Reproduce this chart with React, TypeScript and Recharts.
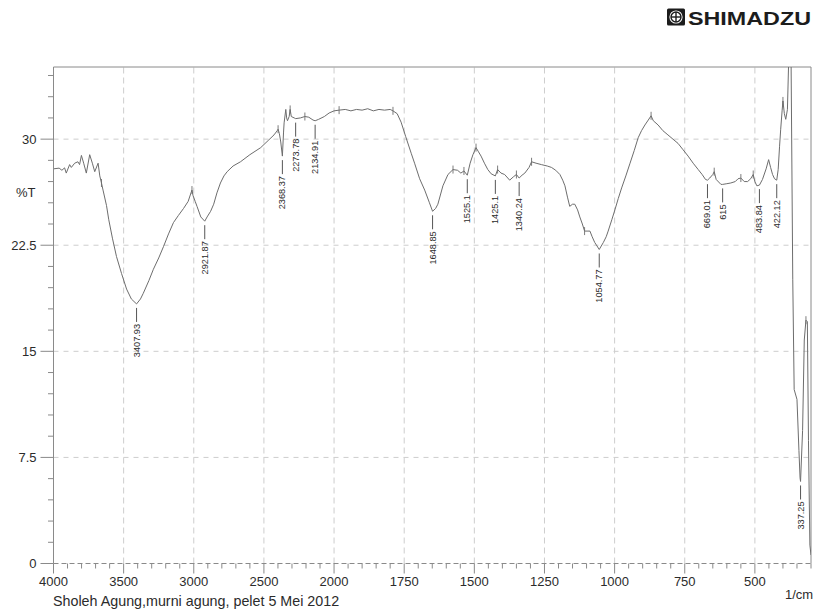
import { ComposedChart, Line, XAxis, YAxis, ReferenceLine } from "recharts";

// FTIR spectrum, wavenumber (1/cm) vs transmittance (%T)
const WAVENUMBER = [
  4000, 3960, 3940, 3921, 3909, 3885, 3873, 3849, 3826, 3814, 3801, 3785, 3766,
  3742, 3723, 3706, 3682, 3670, 3658, 3647, 3622, 3606, 3580, 3551, 3515, 3479,
  3445, 3407.93, 3380, 3360, 3320, 3288, 3250, 3216, 3180, 3145, 3110, 3073,
  3040, 3020, 3013, 3005, 2990, 2977, 2950, 2921.87, 2905, 2880, 2858, 2835,
  2810, 2785, 2762, 2720, 2667, 2600, 2523, 2470, 2428, 2405, 2399, 2390, 2380,
  2368.37, 2360, 2356, 2344, 2338, 2332, 2320, 2313, 2305, 2284, 2273.78, 2240,
  2208, 2180, 2150, 2134.91, 2110, 2069, 2035, 2000, 1982, 1960, 1940, 1920,
  1900, 1880, 1860, 1840, 1820, 1800, 1790, 1775, 1761, 1745, 1725, 1713, 1695,
  1677, 1660, 1648.85, 1638, 1630, 1612, 1594, 1576, 1560, 1548, 1537, 1525.1,
  1515, 1505, 1494, 1485, 1476, 1464, 1452, 1440, 1425.1, 1417, 1405, 1392,
  1374, 1360, 1350, 1340.24, 1330, 1320, 1305, 1296, 1280, 1261, 1240, 1225,
  1210, 1195, 1185, 1177, 1168, 1160, 1150, 1142, 1132, 1124, 1115, 1107, 1095,
  1088, 1080, 1071, 1054.77, 1040, 1030, 1023, 1010, 999, 987, 975, 960, 945,
  930, 916, 904, 892, 880, 870, 862, 845, 828, 810, 792, 774, 756, 738, 720,
  702, 688, 676, 669.01, 661, 650, 645, 638, 621, 615, 600, 586, 570, 560, 550,
  538, 526, 515, 506, 500, 493, 483.84, 473, 460, 451, 444, 437, 430, 422.12,
  417, 412, 408, 403, 400, 395, 390, 384, 379, 373, 371, 365, 360, 350, 343,
  339, 337.25, 330, 324, 318, 313, 309, 304, 300,
];

const TRANSMITTANCE = [
  27.9, 27.95, 27.8, 27.97, 27.6, 28.2, 28.0, 28.3, 28.4, 28.2, 28.85, 28.3,
  27.6, 28.9, 28.3, 27.7, 28.3, 27.4, 26.9, 26.4, 25.3, 24.3, 23.0, 21.7, 20.5,
  19.4, 18.7, 18.35, 18.7, 19.1, 20.0, 20.8, 21.6, 22.4, 23.3, 24.1, 24.6, 25.1,
  25.6, 26.2, 26.4, 26.0, 25.6, 25.25, 24.5, 24.2, 24.5, 24.9, 25.4, 26.2, 26.9,
  27.4, 27.7, 28.1, 28.4, 28.9, 29.4, 29.9, 30.3, 30.6, 30.7, 30.4, 29.8, 28.8,
  30.5, 31.15, 32.1, 31.5, 31.3, 31.6, 32.1, 31.6, 31.5, 31.45, 31.5, 31.6,
  31.55, 31.35, 31.3, 31.4, 31.6, 31.85, 32.0, 32.05, 32.1, 32.0, 32.1, 32.05,
  32.15, 32.0, 32.1, 32.05, 32.1, 32.0, 31.8, 31.2, 30.2, 29.0, 28.3, 27.2, 26.4,
  25.5, 24.9, 25.1, 25.4, 26.7, 27.5, 27.85, 27.8, 27.6, 27.75, 27.45, 28.3,
  28.9, 29.4, 29.1, 28.8, 28.3, 27.85, 27.55, 27.4, 27.85, 27.6, 27.5, 27.1,
  27.35, 27.5, 27.25, 27.45, 27.6, 28.0, 28.4, 28.3, 28.2, 28.1, 28.0, 27.8,
  27.5, 27.1, 26.7, 25.9, 25.25, 25.4, 25.4, 25.0, 24.5, 24.0, 23.5, 23.5, 23.5,
  23.1, 22.7, 22.2, 22.7, 23.1, 23.5, 24.3, 25.0, 25.8, 26.55, 27.4, 28.3, 29.2,
  30.1, 30.6, 31.0, 31.35, 31.65, 31.3, 31.0, 30.6, 30.3, 30.0, 29.7, 29.25,
  28.8, 28.3, 27.85, 27.5, 27.15, 27.1, 27.25, 27.5, 27.7, 27.15, 26.8, 26.8,
  26.85, 26.9, 27.0, 27.2, 27.25, 27.0, 27.0, 27.2, 27.5, 27.0, 26.7, 26.75,
  27.15, 27.9, 28.55, 28.0, 27.5, 27.2, 27.1, 27.85, 29.5, 30.7, 32.0, 32.7,
  31.8, 31.4, 32.1, 36.0, 36.0, 35.5, 20.1, 12.3, 11.6, 8.0, 6.05, 5.8, 9.4,
  15.8, 17.2, 17.1, 8.7, 1.3, 0.6,
];

// peaks annotated with their wavenumber
const PEAK_LABELS = [
  3407.93, 2921.87, 2368.37, 2273.78, 2134.91, 1648.85, 1525.1, 1425.1, 1340.24,
  1054.77, 669.01, 615, 483.84, 422.12, 337.25,
];

// small pick marks along the trace
const PICK_MARKS = [
  3658, 3013, 2399, 2313, 2208, 1982, 1790, 1576, 1537, 1494, 1417, 1350, 1296,
  1107, 870, 645, 550, 506, 400, 318,
];

const X_MAJOR = [4000, 3500, 3000, 2500, 2000, 1750, 1500, 1250, 1000, 750, 500];
const Y_MAJOR = [0, 7.5, 15, 22.5, 30];

// above 2000 1/cm the abscissa is compressed by half
const toAxis = (w: number) => (w > 2000 ? 2000 + (w - 2000) / 2 : w);
const fromAxis = (u: number) => (u > 2000 ? 2000 + (u - 2000) * 2 : u);

const data = WAVENUMBER.map((w, i) => ({ w, u: toAxis(w), t: TRANSMITTANCE[i] }));

const X_TOP = 3000;
const X_END = 300;
const Y_TOP = 35.1;

const xTicks = Array.from({ length: (X_TOP - X_END) / 50 + 1 }, (_, i) => X_END + i * 50);
const yTicks = Array.from({ length: 24 }, (_, i) => i * 1.5);

const INK = "#2b2b2b";
const AXIS = "#8a8a8a";
const GRID = "#cdcdcd";
const TRACE = "#6d6d6d";
const FONT = "'Liberation Sans', Arial, sans-serif";

const XTick = ({ x, y, payload }: any) => {
  const major = (X_TOP - payload.value) % 250 === 0;
  return (
    <g>
      <line x1={x} x2={x} y1={y} y2={y + (major ? 10 : 5)} stroke={AXIS} />
      {major && (
        <text x={x} y={y + 18} textAnchor="middle" dominantBaseline="central"
          fontSize={13} fontFamily={FONT} fill={INK}>
          {fromAxis(payload.value)}
        </text>
      )}
    </g>
  );
};

const YTick = ({ x, y, payload }: any) => {
  const v = payload.value;
  const major = Math.abs(v / 7.5 - Math.round(v / 7.5)) < 1e-6;
  return (
    <g>
      <line x1={x - (major ? 13 : 5.5)} x2={x} y1={y} y2={y} stroke={AXIS} />
      {major && (
        <text x={x - 17} y={y} textAnchor="end" dominantBaseline="central"
          fontSize={13} fontFamily={FONT} fill={INK}>
          {Math.round(v * 10) / 10}
        </text>
      )}
    </g>
  );
};

const TraceDot = (props: any) => {
  const { cx, cy, payload, index } = props;
  if (PEAK_LABELS.includes(payload.w)) {
    return (
      <g key={`pk-${index}`}>
        <line x1={cx} x2={cx} y1={cy + 4} y2={cy + 18} stroke={INK} strokeWidth={0.8} />
        <text transform={`translate(${cx}, ${cy + 20}) rotate(-90)`} textAnchor="end"
          dominantBaseline="central" fontSize={9.2} fontFamily={FONT} fill={INK}>
          {String(payload.w)}
        </text>
      </g>
    );
  }
  if (PICK_MARKS.includes(payload.w)) {
    return (
      <line key={`pm-${index}`} x1={cx} x2={cx} y1={cy - 4} y2={cy + 4}
        stroke={TRACE} strokeWidth={0.9} />
    );
  }
  return <g key={`nd-${index}`} />;
};

export default function App() {
  return (
    <div style={{ position: "absolute", left: 0, top: 0, width: 813, height: 615, background: "#fff" }}>
      <ComposedChart width={813} height={615} data={data}
        margin={{ top: 67, right: 2, bottom: 0, left: 0 }}>
        <XAxis dataKey="u" type="number" domain={[X_END, X_TOP]} reversed
          ticks={xTicks} interval={0} height={51.5} tickSize={0} tickMargin={0}
          tick={<XTick />} axisLine={{ stroke: AXIS, strokeDasharray: "5 3" }}
          allowDataOverflow />
        <YAxis type="number" domain={[0, Y_TOP]} ticks={yTicks} interval={0}
          width={53.5} tickSize={0} tickMargin={0} tick={<YTick />}
          axisLine={{ stroke: AXIS }} allowDataOverflow />
        {X_MAJOR.slice(1).map((w) => (
          <ReferenceLine key={`gx-${w}`} x={toAxis(w)} stroke={GRID} strokeDasharray="6 4" />
        ))}
        {Y_MAJOR.slice(1).map((v) => (
          <ReferenceLine key={`gy-${v}`} y={v} stroke={GRID} strokeDasharray="5 5" />
        ))}
        <ReferenceLine y={Y_TOP} stroke={AXIS} />
        <ReferenceLine x={X_END} stroke={AXIS} />
        <Line dataKey="t" type="linear" stroke={TRACE} strokeWidth={1}
          dot={TraceDot} activeDot={false} isAnimationActive={false} />
      </ComposedChart>

      <div style={{ position: "absolute", left: 16, top: 185, fontFamily: FONT, fontSize: 13, color: INK }}>
        %T
      </div>
      <div style={{ position: "absolute", left: 53, top: 593, fontFamily: FONT, fontSize: 14.3, color: INK, whiteSpace: "nowrap" }}>
        Sholeh Agung,murni agung, pelet 5 Mei 2012
      </div>
      <div style={{ position: "absolute", left: 785, top: 587, fontFamily: FONT, fontSize: 13, color: INK }}>
        1/cm
      </div>

      <svg style={{ position: "absolute", left: 660, top: 0 }} width={153} height={32}>
        <rect x={7} y={8.5} width={18} height={17} rx={1.5} fill="#1c1c1c" />
        <circle cx={16} cy={17} r={6.6} fill="#fff" />
        <circle cx={16} cy={17} r={5} fill="none" stroke="#1c1c1c" strokeWidth={1.4} />
        <line x1={16} x2={16} y1={12} y2={22} stroke="#1c1c1c" strokeWidth={1.4} />
        <line x1={11} x2={21} y1={17} y2={17} stroke="#1c1c1c" strokeWidth={1.4} />
        <text x={28} y={25} fontFamily={FONT} fontWeight={900} fontSize={18}
          textLength={123} lengthAdjust="spacingAndGlyphs" fill="#1c1c1c">
          SHIMADZU
        </text>
      </svg>
    </div>
  );
}
